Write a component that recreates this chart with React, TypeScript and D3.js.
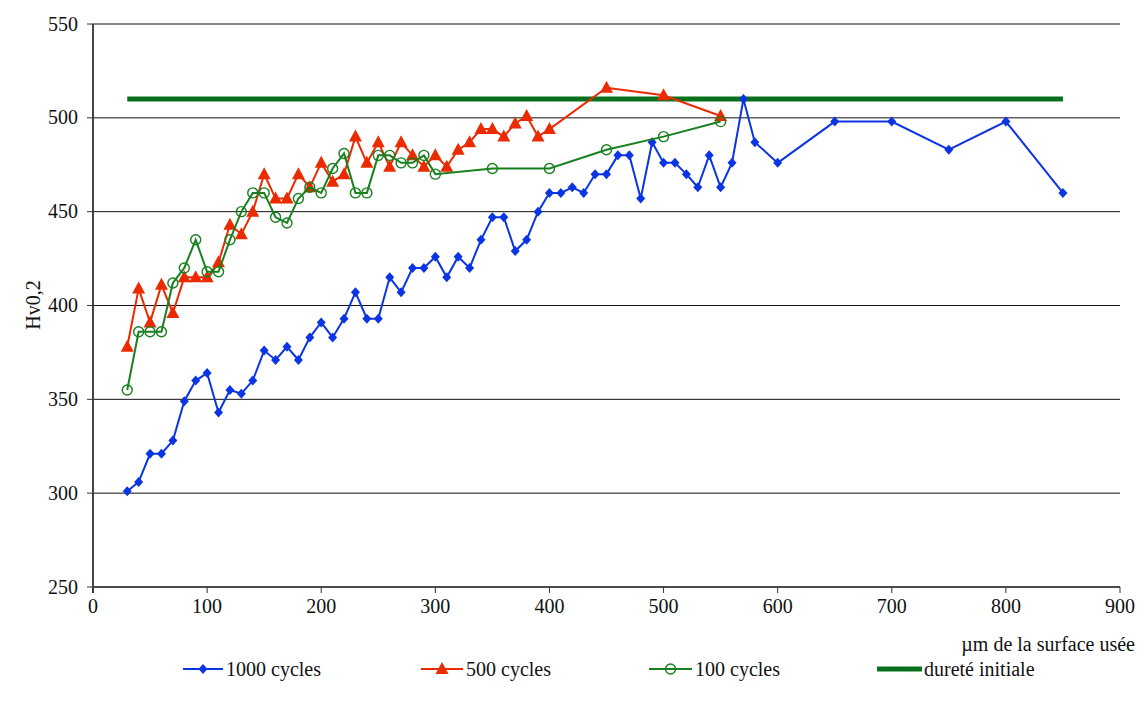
import React from "react";
import * as d3 from "d3";

const xTicks = [0, 100, 200, 300, 400, 500, 600, 700, 800, 900];
const yTicks = [250, 300, 350, 400, 450, 500, 550];

const x1000 = [30, 40, 50, 60, 70, 80, 90, 100, 110, 120, 130, 140, 150, 160, 170, 180, 190, 200, 210, 220, 230, 240, 250, 260, 270, 280, 290, 300, 310, 320, 330, 340, 350, 360, 370, 380, 390, 400, 410, 420, 430, 440, 450, 460, 470, 480, 490, 500, 510, 520, 530, 540, 550, 560, 570, 580, 600, 650, 700, 750, 800, 850];
const y1000 = [301, 306, 321, 321, 328, 349, 360, 364, 343, 355, 353, 360, 376, 371, 378, 371, 383, 391, 383, 393, 407, 393, 393, 415, 407, 420, 420, 426, 415, 426, 420, 435, 447, 447, 429, 435, 450, 460, 460, 463, 460, 470, 470, 480, 480, 457, 487, 476, 476, 470, 463, 480, 463, 476, 510, 487, 476, 498, 498, 483, 498, 460];

const x500 = [30, 40, 50, 60, 70, 80, 90, 100, 110, 120, 130, 140, 150, 160, 170, 180, 190, 200, 210, 220, 230, 240, 250, 260, 270, 280, 290, 300, 310, 320, 330, 340, 350, 360, 370, 380, 390, 400, 450, 500, 550];
const y500 = [378, 409, 391, 411, 396, 415, 415, 415, 423, 443, 438, 450, 470, 457, 457, 470, 463, 476, 466, 470, 490, 476, 487, 474, 487, 480, 474, 480, 474, 483, 487, 494, 494, 490, 497, 501, 490, 494, 516, 512, 501];

const x100 = [30, 40, 50, 60, 70, 80, 90, 100, 110, 120, 130, 140, 150, 160, 170, 180, 190, 200, 210, 220, 230, 240, 250, 260, 270, 280, 290, 300, 350, 400, 450, 500, 550];
const y100 = [355, 386, 386, 386, 412, 420, 435, 418, 418, 435, 450, 460, 460, 447, 444, 457, 463, 460, 473, 481, 460, 460, 480, 480, 476, 476, 480, 470, 473, 473, 483, 490, 498];

const xInit = [30, 850];
const yInit = [510, 510];

const legendLabels = ["1000 cycles", "500 cycles", "100 cycles", "dureté initiale"];

const FONT = '"Liberation Serif", "DejaVu Serif", "Times New Roman", serif';
const BLUE = "#0b35e3";
const RED = "#ec2a00";
const GREEN = "#18801f";
const DGREEN = "#08701a";

const W = 1139;
const H = 707;
const L = 93, R = 1120, T = 24, B = 587;

const txt: React.CSSProperties = { fontFamily: FONT, fontSize: "20px", fill: "#111" };

export default function App() {
  const x = d3.scaleLinear().domain([0, 900]).range([L, R]);
  const y = d3.scaleLinear().domain([250, 550]).range([B, T]);

  const zip = (xs: number[], ys: number[]) => xs.map((v, i) => [v, ys[i]] as [number, number]);
  const line = d3.line<[number, number]>().x(d => x(d[0])).y(d => y(d[1]));

  const s1000 = zip(x1000, y1000);
  const s500 = zip(x500, y500);
  const s100 = zip(x100, y100);
  const sInit = zip(xInit, yInit);

  const diamond = (cx: number, cy: number, k: number) => (
    <path key={k} d={`M${cx},${cy - 5}L${cx + 4.5},${cy}L${cx},${cy + 5}L${cx - 4.5},${cy}Z`} fill={BLUE} />
  );
  const triangle = (cx: number, cy: number, k: number) => (
    <path key={k} d={`M${cx},${cy - 7}L${cx + 6.5},${cy + 5}L${cx - 6.5},${cy + 5}Z`} fill={RED} />
  );
  const circle = (cx: number, cy: number, k: number) => (
    <circle key={k} cx={cx} cy={cy} r={5} fill="none" stroke={GREEN} strokeWidth={1.4} />
  );

  const legY = 669;
  const legItems = [
    { x0: 183, x1: 223, tx: 226, color: BLUE, w: 2, marker: diamond },
    { x0: 421, x1: 463, tx: 466, color: RED, w: 2, marker: triangle },
    { x0: 649, x1: 692, tx: 695, color: GREEN, w: 2, marker: circle },
    { x0: 877, x1: 922, tx: 924, color: DGREEN, w: 5, marker: null as any },
  ];

  return (
    <svg width={W} height={H} style={{ position: "absolute", left: 0, top: 0, background: "#fff" }}>
      <rect x={0} y={0} width={W} height={H} fill="#fff" />
      {yTicks.filter(t => t > 250).map(t => (
        <line key={t} x1={L} x2={R} y1={y(t)} y2={y(t)} stroke="#111" strokeWidth={1} />
      ))}
      <line x1={L} x2={R} y1={B} y2={B} stroke="#111" strokeWidth={1.3} />
      <line x1={L} x2={L} y1={T} y2={B + 6} stroke="#444" strokeWidth={2} />
      {yTicks.map(t => (
        <g key={t}>
          <line x1={L - 6} x2={L} y1={y(t)} y2={y(t)} stroke="#333" strokeWidth={1} />
          <text x={78} y={y(t) + 6.5} textAnchor="end" style={txt}>{t}</text>
        </g>
      ))}
      {xTicks.map(t => (
        <g key={t}>
          <line x1={x(t)} x2={x(t)} y1={B} y2={B + 6} stroke="#333" strokeWidth={1} />
          <text x={x(t)} y={B + 26} textAnchor="middle" style={txt}>{t}</text>
        </g>
      ))}
      <text transform={`translate(40,305) rotate(-90)`} textAnchor="middle" style={txt}>Hv0,2</text>
      <text x={1135} y={651} textAnchor="end" style={txt}>µm de la surface usée</text>

      <path d={line(sInit) || ""} fill="none" stroke={DGREEN} strokeWidth={5} />
      <path d={line(s1000) || ""} fill="none" stroke={BLUE} strokeWidth={2} />
      {s1000.map((d, i) => diamond(x(d[0]), y(d[1]), i))}
      <path d={line(s500) || ""} fill="none" stroke={RED} strokeWidth={2} />
      {s500.map((d, i) => triangle(x(d[0]), y(d[1]), i))}
      <path d={line(s100) || ""} fill="none" stroke={GREEN} strokeWidth={2} />
      {s100.map((d, i) => circle(x(d[0]), y(d[1]), i))}

      {legItems.map((it, i) => (
        <g key={i}>
          <line x1={it.x0} x2={it.x1} y1={legY} y2={legY} stroke={it.color} strokeWidth={it.w} />
          {it.marker ? it.marker((it.x0 + it.x1) / 2, legY, 0) : null}
          <text x={it.tx} y={legY + 7} style={txt}>{legendLabels[i]}</text>
        </g>
      ))}
    </svg>
  );
}
